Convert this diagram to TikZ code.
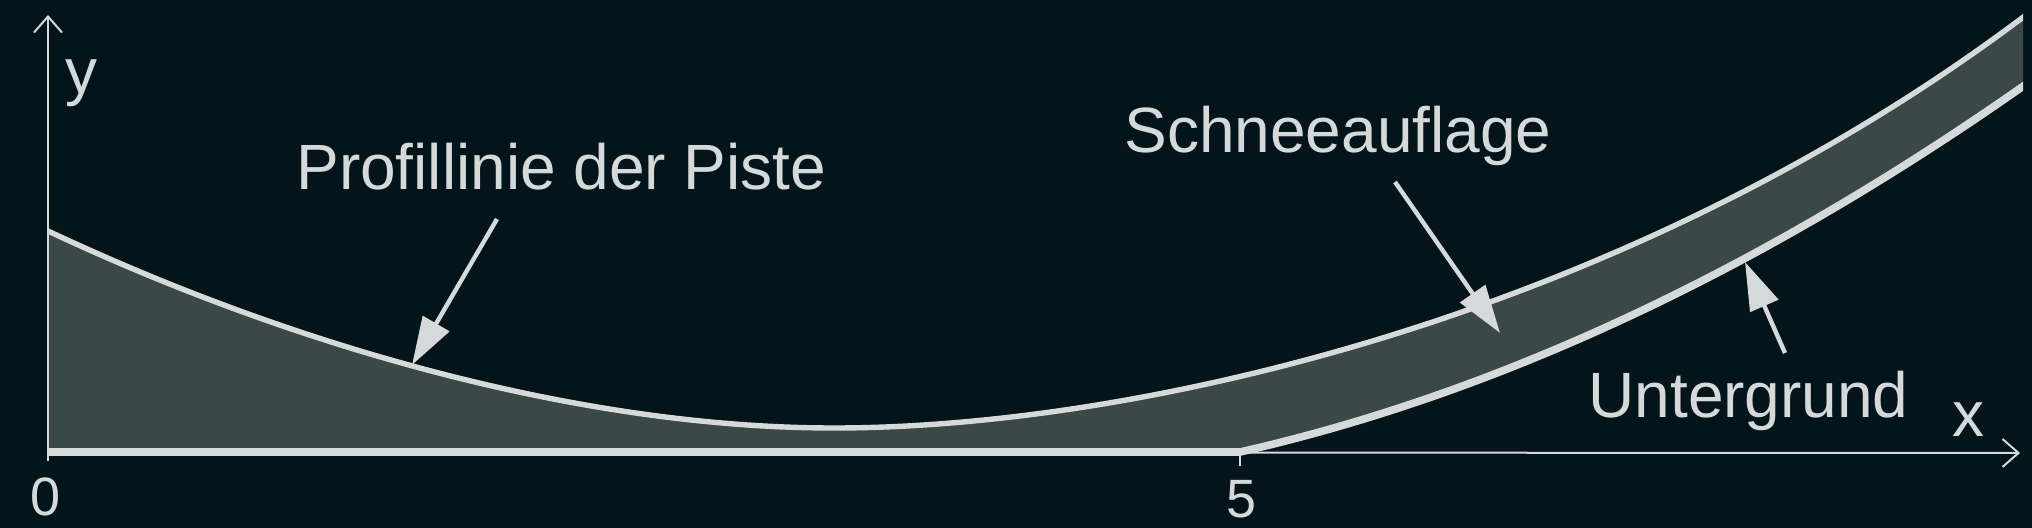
\documentclass[tikz,border=0pt]{standalone}
\usepackage{fontspec}
\setmainfont{Liberation Sans}
\usetikzlibrary{arrows.meta}
\definecolor{bgc}{RGB}{3,20,26}
\definecolor{fillc}{RGB}{59,72,74}
\definecolor{linec}{RGB}{214,217,217}
\tikzset{
  lbl/.style={text=linec, font=\fontsize{32pt}{38pt}\selectfont, inner sep=0pt, anchor=base west},
  axlbl/.style={text=linec, font=\fontsize{32pt}{38pt}\selectfont, inner sep=0pt, anchor=base},
  num/.style={text=linec, font=\fontsize{27pt}{32pt}\selectfont, inner sep=0pt, anchor=base},
  axisline/.style={draw=linec, line width=1pt},
  axisarrow/.style={axisline, -{Straight Barb[length=8pt,width=14pt]}},
  surf/.style={draw=linec, line width=2.7pt, line join=round},
  groundline/.style={draw=linec, line width=3.8pt, line join=round},
  pointer/.style={draw=linec, line width=2.2pt, -{Triangle[length=24pt,width=15pt]}},
}
\begin{document}
\begin{tikzpicture}[x=0.5pt,y=-0.5pt]
\fill[bgc] (0,0) rectangle (2032,528);
\useasboundingbox (0,0) rectangle (2032,528);

% named points
\coordinate (O) at (48,452);
\coordinate (ytop) at (48,15);
\coordinate (ybot) at (48,461);
\coordinate (xend) at (2020,453);
\coordinate (k5) at (1240,452);
\coordinate (k5b) at (1240,466);
\coordinate (s0) at (48,231);   % profile start
\coordinate (smin) at (834,428); % profile minimum
\coordinate (s1) at (2022,18);  % profile end
\coordinate (s1x) at (2042,3);
\coordinate (g1) at (2022,87);  % ground end
\coordinate (g1x) at (2042,73);

\begin{scope}
\clip (0,0) rectangle (2023,528);
% snow layer fill
\fill[fillc] (O) -- (s0) .. controls (298,348.5) and (584,428) .. (smin)
  .. controls (1134,428) and (1622,318) .. (s1) -- (s1x) -- (g1x) -- (g1)
  .. controls (1762,269) and (1500,393) .. (k5) -- cycle;
% x axis (thin)
\draw[axisarrow] (O) -- (xend);
% ground (Untergrund)
\draw[groundline] (O) -- (k5) .. controls (1500,393) and (1762,269) .. (g1) -- (g1x);
% profile line (Profillinie / snow surface)
\draw[surf] (s0) .. controls (298,348.5) and (584,428) .. (smin)
  .. controls (1134,428) and (1622,318) .. (s1) -- (s1x);
\end{scope}

% y axis
\draw[axisarrow] (ybot) -- (ytop);
% tick at 5
\draw[axisline] (k5) -- (k5b);

% labels
\node[axlbl] (ylab) at (81,94) {y};
\node[axlbl] (xlab) at (1968,437) {x};
\node[num] (n0) at (46,515) {0};
\node[num] (n5) at (1241,517) {5};
\node[lbl] (lprof) at (296,190) {Profillinie der Piste};
\node[lbl] (lsnow) at (1124,153) {Schneeauflage};
\node[lbl] (lground) at (1588,418) {Untergrund};

% pointers
\coordinate (pa) at (497,219);
\coordinate (pb) at (412,365);
\coordinate (sa) at (1395,182);
\coordinate (sb) at (1500,333);
\coordinate (ga) at (1785,353);
\coordinate (gb) at (1745,262);
\draw[pointer] (pa) -- (pb);
\draw[pointer] (sa) -- (sb);
\draw[pointer] (ga) -- (gb);
\end{tikzpicture}
\end{document}
